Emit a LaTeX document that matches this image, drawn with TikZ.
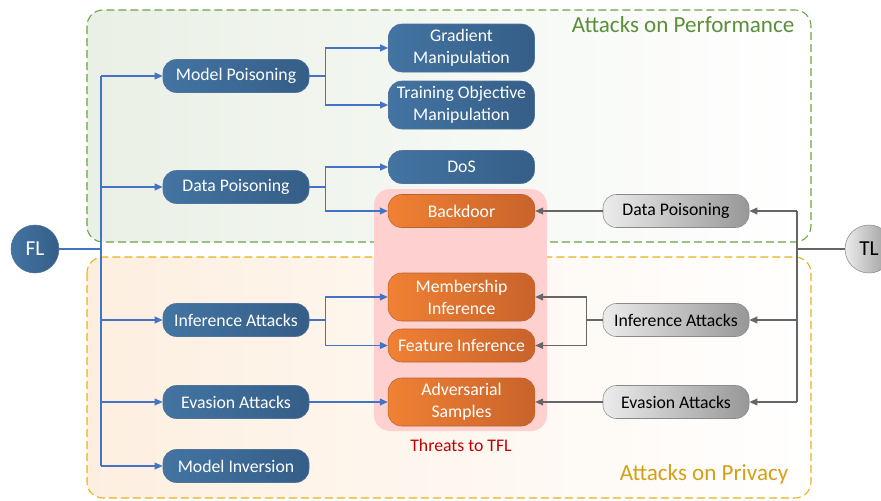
\documentclass[tikz,border=0pt]{standalone}
\usepackage{fontspec}
\setmainfont{Carlito}
\usepackage{xcolor}
\usetikzlibrary{arrows.meta, positioning}

\definecolor{bluetop}{HTML}{4374A2}
\definecolor{bluebot}{HTML}{355E87}
\definecolor{blueedge}{HTML}{4F739A}
\definecolor{orgtop}{HTML}{F08134}
\definecolor{orgbot}{HTML}{C9632B}
\definecolor{orgedge}{HTML}{B8652F}
\definecolor{graytop}{HTML}{ECECEC}
\definecolor{graybot}{HTML}{979797}
\definecolor{grayedge}{HTML}{8A8A8A}
\definecolor{arrblue}{HTML}{4472C4}
\definecolor{arrgray}{HTML}{666666}
\definecolor{perfgreen}{HTML}{6AA342}
\definecolor{perftext}{HTML}{5B8F3A}
\definecolor{perffill}{HTML}{EAF0E6}
\definecolor{privgold}{HTML}{E8B21A}
\definecolor{privtext}{HTML}{D4A017}
\definecolor{privfill}{HTML}{FDEFE0}
\definecolor{threatpink}{HTML}{FFD0D0}
\definecolor{threatred}{HTML}{C00000}

\begin{document}
\begin{tikzpicture}[x=0.75pt, y=-0.75pt, every node/.style={align=center, font=\fontsize{13.3}{16.5}\selectfont},
  bluebox/.style={draw=blueedge, rounded corners=10pt, left color=bluetop, right color=bluebot, text=white, minimum width=109.5pt, minimum height=24.75pt, inner sep=0pt},
  orgbox/.style={draw=orgedge, rounded corners=10pt, left color=orgtop, right color=orgbot, text=white, minimum width=110pt, minimum height=24.75pt, inner sep=0pt},
  graybox/.style={draw=grayedge, rounded corners=10pt, left color=graytop, right color=graybot, text=black, minimum width=109.5pt, minimum height=24.75pt, inner sep=0pt},
  tall/.style={minimum height=36pt},
  region/.style={dash pattern=on 6pt off 3pt, line width=0.8pt, rounded corners=12pt},
  bline/.style={draw=arrblue, line width=1.1pt},
  barrow/.style={bline, -{Triangle[length=6pt, width=5pt]}},
  gline/.style={draw=arrgray, line width=1.1pt},
  garrow/.style={gline, -{Triangle[length=6pt, width=5pt]}}]
\useasboundingbox (0,0) rectangle (881,500);

\draw[region, draw=perfgreen, left color=perffill, right color=white] (87,10) rectangle (811,242);
\draw[region, draw=privgold, left color=privfill, right color=white] (87,257) rectangle (811,498);
\node[anchor=east, text=perftext, font=\fontsize{17.3}{20}\selectfont] (lPerf) at (799,25) {Attacks on Performance};
\node[anchor=east, text=privtext, font=\fontsize{17.3}{20}\selectfont] (lPriv) at (793,474) {Attacks on Privacy};

\fill[threatpink, rounded corners=12pt] (374,189) rectangle (547,431);
\node[text=threatred] (lThreat) at (461,445) {Threats to TFL};

\node[circle, draw=blueedge, left color=bluetop, right color=bluebot, text=white, minimum size=36pt, inner sep=0pt, font=\fontsize{16}{19}\selectfont] (nFL) at (35,249) {FL};
\node[circle, draw=grayedge, left color=graytop, right color=graybot, text=black, minimum size=36pt, inner sep=0pt, font=\fontsize{16}{19}\selectfont] (nTL) at (869,249) {TL};

\node[bluebox] (nMP) at (236,76) {Model Poisoning};
\node[bluebox] (nDP) at (236,187) {Data Poisoning};
\node[bluebox] (nIA) at (236,320) {Inference Attacks};
\node[bluebox] (nEA) at (236,402) {Evasion Attacks};
\node[bluebox] (nMI) at (236,466) {Model Inversion};

\node[bluebox, tall] (nGM) at (461.5,48) {Gradient\\Manipulation};
\node[bluebox, tall] (nTO) at (461.5,105) {Training Objective\\Manipulation};
\node[bluebox] (nDoS) at (461.5,167) {DoS};
\node[orgbox] (nBD) at (461.5,211) {Backdoor};
\node[orgbox, tall] (nMem) at (461.5,297) {Membership\\Inference};
\node[orgbox] (nFI) at (461.5,345.5) {Feature Inference};
\node[orgbox, tall] (nAS) at (461.5,402) {Adversarial\\Samples};

\node[graybox] (gDP) at (676,211) {Data Poisoning};
\node[graybox] (gIA) at (676,320) {Inference Attacks};
\node[graybox] (gEA) at (676,402) {Evasion Attacks};

\coordinate (tFL) at (101,249);
\coordinate (tTL) at (797,249);

\draw[bline] (nFL) -- (tFL);
\draw[bline] (tFL |- nMP) -- (tFL |- nMI);
\foreach \n in {nMP,nDP,nIA,nEA,nMI}
  \draw[barrow] (tFL |- \n) -- (\n);
\draw[barrow] (nMP.east) -- ++(16,0) |- (nGM.west);
\draw[barrow] (nMP.east) -- ++(16,0) |- (nTO.west);
\draw[barrow] (nDP.east) -- ++(16,0) |- (nDoS.west);
\draw[barrow] (nDP.east) -- ++(16,0) |- (nBD.west);
\draw[barrow] (nIA.east) -- ++(16,0) |- (nMem.west);
\draw[barrow] (nIA.east) -- ++(16,0) |- (nFI.west);
\draw[barrow] (nEA) -- (nAS);

\draw[gline] (nTL) -- (tTL);
\draw[gline] (tTL |- gDP) -- (tTL |- gEA);
\foreach \n in {gDP,gIA,gEA}
  \draw[garrow] (tTL |- \n) -- (\n);
\draw[garrow] (gDP) -- (nBD);
\draw[garrow] (gIA.west) -- ++(-16,0) |- (nMem.east);
\draw[garrow] (gIA.west) -- ++(-16,0) |- (nFI.east);
\draw[garrow] (gEA) -- (nAS);
\end{tikzpicture}
\end{document}
